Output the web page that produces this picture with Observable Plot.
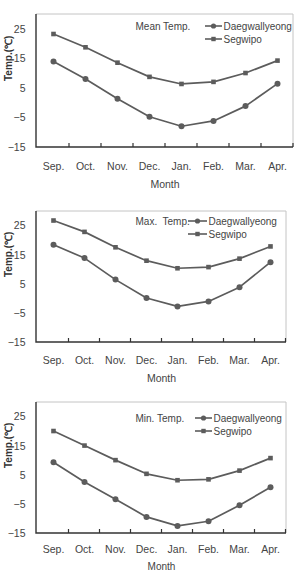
<!DOCTYPE html>
<html><head><meta charset="utf-8">
<script src="https://cdn.jsdelivr.net/npm/d3@7"></script>
<script src="https://cdn.jsdelivr.net/npm/@observablehq/plot@0.6"></script>
<style>
body{margin:0;background:#fff;}
#c{width:295px;}
#c svg{display:block;}
#c text{white-space:pre;}
</style></head><body><div id="c"></div>
<script>
const months = ["Sep.","Oct.","Nov.","Dec.","Jan.","Feb.","Mar.","Apr."];
const yTicks = [25,15,5,-5,-15];
const stations = ["Daegwallyeong","Segwipo"];
const titles = ["Mean Temp.","Max.  Temp.","Min. Temp."];
const meanDaeg = [14.1,8.2,1.5,-4.6,-7.8,-6.0,-1.0,6.6];
const meanSeg  = [23.4,18.9,13.7,8.9,6.5,7.2,10.2,14.4];
const maxDaeg  = [18.6,14.0,6.6,0.3,-2.6,-0.9,4.0,12.6];
const maxSeg   = [26.9,23.0,17.7,13.1,10.5,10.9,13.8,18.0];
const minDaeg  = [9.5,2.7,-3.2,-9.3,-12.4,-10.8,-5.3,0.9];
const minSeg   = [20.2,15.2,10.2,5.5,3.3,3.6,6.6,10.9];

const INK = "#5c5c5c";
const FONT = "'Liberation Sans', Arial, sans-serif";

function panel(title, daeg, seg, L) {
  const rows = [];
  months.forEach((m, i) => {
    rows.push({month: m, station: stations[0], t: daeg[i]});
    rows.push({month: m, station: stations[1], t: seg[i]});
  });
  const mL = 36, mT = L.mt, mB = L.mb, mR = L.mr;
  const decor = (index, scales, values, dims) => {
    const g = d3.create("svg:g");
    const x = scales.x, step = x.step();
    const x0 = dims.marginLeft, x1 = dims.width - dims.marginRight;
    const y0 = dims.marginTop, y1 = dims.height - dims.marginBottom;
    g.append("path").attr("d", `M${x0},${y0}H${x1}V${y1}`)
      .attr("fill", "none").attr("stroke", "#c4c4c4").attr("stroke-width", 1);
    g.append("path").attr("d", `M${x0},${y0}V${y1}H${x1}`)
      .attr("fill", "none").attr("stroke", "#333").attr("stroke-width", 1.4);
    for (const m of months) {
      const xx = x(m) + step / 2;
      g.append("line").attr("x1", xx).attr("x2", xx).attr("y1", y1).attr("y2", y1 - 4)
        .attr("stroke", "#333").attr("stroke-width", 1.2);
    }
    const syms = [[L.ly, "circle"], [L.ly + 13, "square"]];
    for (const [ly, s] of syms) {
      g.append("line").attr("x1", L.sx0).attr("x2", L.sx1).attr("y1", ly).attr("y2", ly)
        .attr("stroke", INK).attr("stroke-width", 1.6);
      const cx = (L.sx0 + L.sx1) / 2;
      if (s === "circle") g.append("circle").attr("cx", cx).attr("cy", ly).attr("r", 2.6).attr("fill", INK);
      else g.append("rect").attr("x", cx - 2.2).attr("y", ly - 2.2).attr("width", 4.4).attr("height", 4.4).attr("fill", INK);
    }
    return g.node();
  };
  return Plot.plot({
    width: 295, height: 190,
    marginLeft: mL, marginRight: mR, marginTop: mT, marginBottom: mB,
    style: {fontFamily: FONT, fontSize: "10px", color: "#333", background: "#fff", overflow: "visible"},
    x: {type: "point", domain: months, padding: 0.5},
    y: {domain: [-15, 30]},
    marks: [
      Plot.axisY(yTicks, {tickSize: 0, tickPadding: 11, label: null, fontSize: 10.5, fill: "#444"}),
      Plot.axisX(months, {tickSize: 0, tickPadding: L.tp, label: null, fontSize: 10.5, fill: "#444"}),
      Plot.text(["Month"], {frameAnchor: "bottom", dy: L.md, fontSize: L.mf, fill: "#444", lineAnchor: "bottom"}),
      Plot.text(["Temp.(℃)"], {frameAnchor: "left", rotate: -90, dx: -28, fontWeight: "bold", fontSize: 10, fill: "#333"}),
      decor,
      Plot.line(rows, {x: "month", y: "t", z: "station", stroke: INK, strokeWidth: 1.7}),
      Plot.dot(rows.filter(d => d.station === stations[0]), {x: "month", y: "t", r: 3, fill: INK, symbol: "circle"}),
      Plot.dot(rows.filter(d => d.station === stations[1]), {x: "month", y: "t", r: 2.6, fill: INK, symbol: "square"}),
      Plot.text([title], {frameAnchor: "top-left", dx: 135 - mL, dy: L.ly - mT, textAnchor: "start", lineAnchor: "middle", fill: "#444", fontSize: 10}),
      Plot.text([stations[0]], {frameAnchor: "top-left", dx: L.sx1 + 1 - mL, dy: L.ly - mT, textAnchor: "start", lineAnchor: "middle", fill: "#444", fontSize: 10}),
      Plot.text([stations[1]], {frameAnchor: "top-left", dx: L.sx1 + 1 - mL, dy: L.ly + 13 - mT, textAnchor: "start", lineAnchor: "middle", fill: "#444", fontSize: 10})
    ]
  });
}

const c = document.getElementById("c");
c.append(panel(titles[0], meanDaeg, meanSeg, {mt: 14, mb: 43, mr: 2, tp: 15, md: 40, mf: 10.5, ly: 26, sx0: 205, sx1: 222}));
c.append(panel(titles[1], maxDaeg, maxSeg, {mt: 21, mb: 38, mr: 9, tp: 14, md: 39, mf: 10.5, ly: 31, sx0: 188, sx1: 207}));
c.append(panel(titles[2], minDaeg, minSeg, {mt: 22, mb: 37, mr: 9, tp: 12, md: 36, mf: 10, ly: 38, sx0: 195, sx1: 212}));
</script></body></html>
